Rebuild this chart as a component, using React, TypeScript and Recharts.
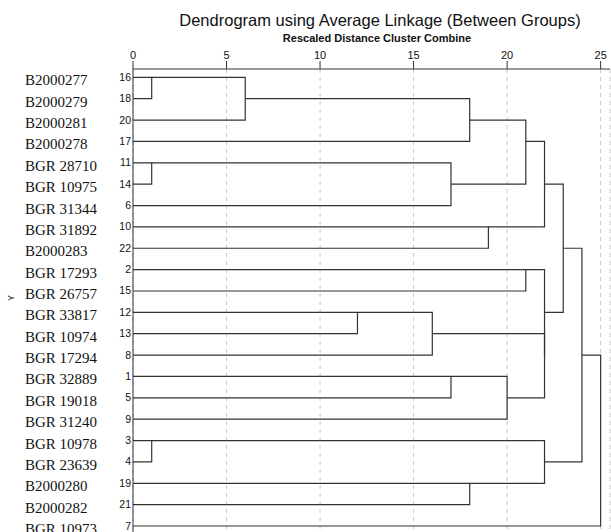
import React from 'react'
import { ScatterChart, Scatter, XAxis, YAxis, CartesianGrid } from 'recharts'

// leaves, top to bottom
const leafNames = [
  'B2000277', 'B2000279', 'B2000281', 'B2000278', 'BGR 28710', 'BGR 10975', 'BGR 31344',
  'BGR 31892', 'B2000283', 'BGR 17293', 'BGR 26757', 'BGR 33817', 'BGR 10974', 'BGR 17294',
  'BGR 32889', 'BGR 19018', 'BGR 31240', 'BGR 10978', 'BGR 23639', 'B2000280', 'B2000282',
  'BGR 10973',
]
const caseNumbers = [16, 18, 20, 17, 11, 14, 6, 10, 22, 2, 15, 12, 13, 8, 1, 5, 9, 3, 4, 19, 21, 7]

// agglomeration schedule: ids 0-21 are leaves, merge k gets id 22 + k
const mergeLeft = [0, 4, 17, 22, 11, 26, 23, 14, 25, 19, 7, 29, 30, 9, 34, 27, 35, 24, 36, 40, 41]
const mergeRight = [1, 5, 18, 2, 12, 13, 6, 15, 3, 20, 8, 16, 28, 10, 32, 33, 37, 31, 38, 39, 21]
const mergeDistance = [1, 1, 1, 6, 12, 16, 17, 17, 18, 18, 19, 20, 21, 21, 22, 22, 22, 22, 23, 24, 25]

const distanceTicks = [0, 5, 10, 15, 20, 25]

// build the elbow shapes for every merge
const nodeRow: number[] = leafNames.map((_, i) => i)
const nodeHeight: number[] = leafNames.map(() => 0)
const links = mergeDistance.map((d, k) => {
  const a = mergeLeft[k]
  const b = mergeRight[k]
  const ra = nodeRow[a]
  const rb = nodeRow[b]
  const pts = [
    { x: nodeHeight[a], y: ra },
    { x: d, y: ra },
    { x: d, y: rb },
    { x: nodeHeight[b], y: rb },
  ]
  nodeRow.push(Math.floor((ra + rb) / 2))
  nodeHeight.push(d)
  return pts
})

const sans = '"Liberation Sans", Arial, sans-serif'
const serif = '"Liberation Serif", "Times New Roman", serif'

const LeafTick = (props: any) => {
  const { y, payload } = props
  const i = payload.value
  return (
    <g>
      <text x={25} y={y + 8} fontFamily={serif} fontSize={15} fill="#111">
        {leafNames[i]}
      </text>
      <text x={131} y={y + 3.5} textAnchor="end" fontFamily={sans} fontSize={10.5} fill="#111">
        {caseNumbers[i]}
      </text>
    </g>
  )
}

const NoDot = () => <g />

export default function App() {
  return (
    <div style={{ position: 'absolute', left: 0, top: 0, width: 611, height: 532, background: '#fff' }}>
      <ScatterChart width={611} height={532} margin={{ top: 0, right: 1, bottom: 0, left: 0 }}>
        <CartesianGrid horizontal={false} stroke="#c8c8c8" strokeDasharray="4 4" />
        <XAxis
          type="number"
          dataKey="x"
          orientation="top"
          domain={[0, 25.5]}
          ticks={distanceTicks}
          allowDataOverflow
          height={69}
          tickSize={8}
          tickMargin={2}
          stroke="#333"
          tick={{ fontFamily: sans, fontSize: 11, fill: '#111' }}
        />
        <YAxis
          type="number"
          dataKey="y"
          reversed
          domain={[-0.39, 21.28]}
          ticks={leafNames.map((_, i) => i)}
          allowDataOverflow
          width={133}
          tickLine={false}
          stroke="#333"
          tick={<LeafTick />}
          interval={0}
        />
        {links.map((pts, k) => (
          <Scatter
            key={k}
            data={pts}
            line={{ stroke: '#333', strokeWidth: 1.2 }}
            shape={NoDot}
            isAnimationActive={false}
          />
        ))}
      </ScatterChart>
      <svg width={611} height={532} style={{ position: 'absolute', left: 0, top: 0, pointerEvents: 'none' }}>
        <text x={380} y={26} textAnchor="middle" fontFamily={sans} fontSize={16.5} fill="#111">
          Dendrogram using Average Linkage (Between Groups)
        </text>
        <text x={377} y={42} textAnchor="middle" fontFamily={sans} fontSize={11} fontWeight="bold" fill="#111">
          Rescaled Distance Cluster Combine
        </text>
        <text x={14} y={298} textAnchor="middle" transform="rotate(-90 14 298)" fontFamily={sans} fontSize={9} fill="#111">
          Y
        </text>
      </svg>
    </div>
  )
}
